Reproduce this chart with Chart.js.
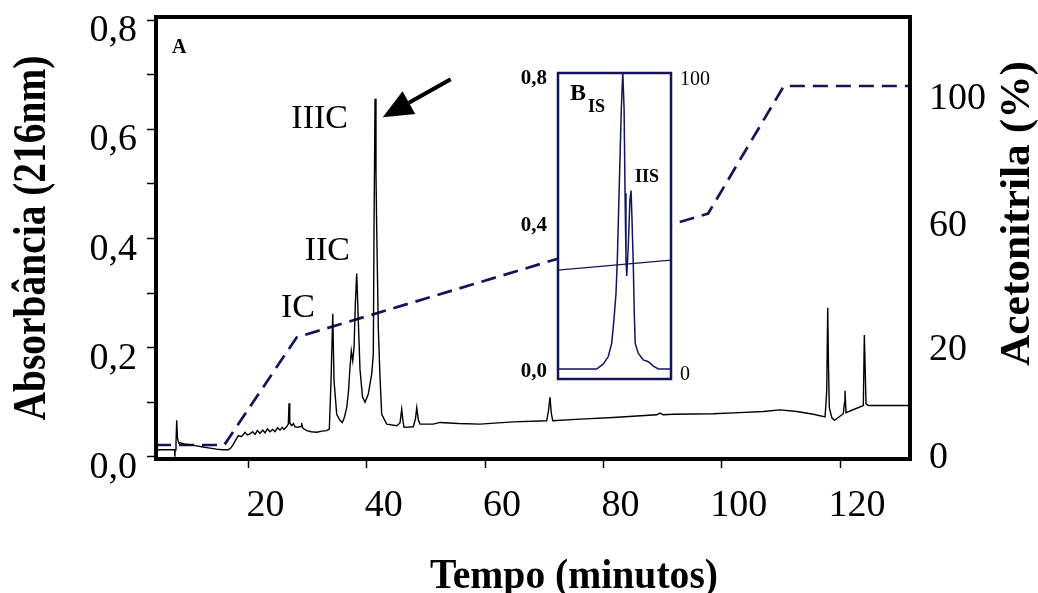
<!DOCTYPE html>
<html>
<head>
<meta charset="utf-8">
<title>Cromatograma</title>
<script src="https://cdn.jsdelivr.net/npm/chart.js@4.4.1/dist/chart.umd.min.js"></script>
<style>
  html, body { margin: 0; padding: 0; background: #fff; }
  #wrap { position: relative; width: 1038px; height: 593px; }
  #main { position: absolute; left: 0; top: 0; }
  #inset { position: absolute; left: 515px; top: 60px; }
</style>
</head>
<body>
<div id="wrap">
  <canvas id="main" width="1038" height="593"></canvas>
  <canvas id="inset" width="200" height="335"></canvas>
</div>
<script>
// cromatograma A: tempo (min) x absorbância (216 nm)
const tempo = [
  4.36, 7.5, 7.55, 7.6, 7.74, 7.86, 7.98, 8.2, 8.42, 9.26, 10.11, 11.2, 12.31, 13.5, 14.62, 15.6, 16.58,
  17.0, 17.43, 17.9, 18.28, 18.8, 19.41, 19.8, 20.25, 20.7, 21.1, 21.5, 21.94, 22.4, 22.79, 23.2, 23.63,
  24.1, 24.48, 24.9, 25.33, 25.7, 26.0, 26.5, 26.73, 26.85, 26.97, 27.3, 27.6, 27.86, 28.37, 28.9, 28.99,
  29.1, 29.38, 29.84, 30.6, 31.53, 32.43, 33.22, 33.66, 33.95, 34.24, 34.46, 34.91, 35.4, 35.86, 36.2,
  36.6, 36.9, 37.16, 37.38, 37.62, 37.84, 38.06, 38.29, 38.56, 38.85, 39.27, 39.7, 40.25, 40.83, 41.1,
  41.22, 41.39, 41.55, 41.67, 41.94, 42.23, 42.52, 43.36, 45.06, 45.61, 45.9, 46.12, 46.29, 47.86, 48.23,
  48.44, 48.71, 48.99, 51.24, 52.38, 55.5, 59.14, 64.72, 70.41, 70.72, 70.97, 71.19, 71.43, 76.04, 81.67,
  89.01, 89.57, 90.08, 91.82, 98.58, 103, 107.03, 109.86, 112.68, 115.49, 117.47, 117.75, 117.92, 118.06,
  118.19, 118.6, 119.04, 119.71, 120.56, 120.76, 120.84, 121.01, 122.82, 123.94, 124.11, 124.4, 124.79, 131.83
];
const absorbancia = [
  0.013, 0.013, 0.0, 0.013, 0.025, 0.067, 0.035, 0.025, 0.026, 0.023, 0.022, 0.02, 0.018, 0.016, 0.014, 0.013, 0.013,
  0.016, 0.023, 0.032, 0.039, 0.037, 0.045, 0.04, 0.042, 0.046, 0.041, 0.048, 0.043, 0.049, 0.044, 0.051, 0.046,
  0.05, 0.046, 0.053, 0.049, 0.054, 0.05, 0.056, 0.06, 0.098, 0.062, 0.057, 0.061, 0.055, 0.054, 0.056, 0.062,
  0.054, 0.051, 0.048, 0.046, 0.045, 0.047, 0.048, 0.051, 0.139, 0.262, 0.139, 0.078, 0.068, 0.063, 0.072,
  0.09, 0.12, 0.164, 0.194, 0.176, 0.2, 0.28, 0.336, 0.25, 0.16, 0.11, 0.1, 0.115, 0.152, 0.188,
  0.421, 0.656, 0.52, 0.42, 0.237, 0.146, 0.078, 0.06, 0.057, 0.062, 0.087, 0.065, 0.054, 0.055, 0.07,
  0.09, 0.068, 0.06, 0.06, 0.063, 0.061, 0.06, 0.064, 0.066, 0.085, 0.109, 0.08, 0.066, 0.069, 0.072,
  0.077, 0.08, 0.077, 0.078, 0.079, 0.081, 0.083, 0.086, 0.083, 0.078, 0.073, 0.12, 0.273, 0.16,
  0.09, 0.072, 0.067, 0.072, 0.079, 0.1, 0.121, 0.081, 0.089, 0.094, 0.223, 0.097, 0.094, 0.094
];

// gradiente de acetonitrila (%)
const tempoGradiente = [4.36, 15.9, 28.15, 97.7, 110.5, 131.83];
const acetonitrila = [0, 0, 20, 60, 100, 100];

// ticks dos eixos
const ticksTempo = [20, 40, 60, 80, 100, 120];
const ticksAbs = [0, 0.1, 0.2, 0.3, 0.4, 0.5, 0.6, 0.7, 0.8];
const rotulosAbs = [0, 0.2, 0.4, 0.6, 0.8];
const ticksAcn = [0, 20, 60, 100];

// detalhe B_IS
const tempoB = [
  48.0, 50.05, 50.41, 50.67, 50.85, 50.97, 51.08, 51.15, 51.22, 51.29, 51.36, 51.44, 51.51, 51.56, 51.61,
  51.65, 51.73, 51.82, 51.88, 51.93, 52.0, 52.05, 52.1, 52.26, 52.53, 52.8, 53.06, 53.33, 54.0
];
const absB = [
  0, 0, 0.014, 0.034, 0.07, 0.134, 0.207, 0.298, 0.434, 0.571, 0.708, 0.81, 0.708, 0.48, 0.298,
  0.254, 0.334, 0.462, 0.487, 0.407, 0.28, 0.152, 0.07, 0.043, 0.025, 0.02, 0.008, 0, 0
];
const tempoGradB = [48, 54];
const acnB = [34.1, 37.5];
const ticksAbsB = [0, 0.4, 0.8];
const ticksAcnB = [0, 100];

const serif = "'Liberation Serif', 'Times New Roman', serif";
const navy = "#14145a";

const virgula = (v) => v.toFixed(1).replace(".", ",");
const pontos = (xs, ys) => xs.map((x, i) => ({ x: x, y: ys[i] }));

// largura fixa do eixo, sem a folga que o Chart.js reserva para os rótulos
function fixa(prop, valor) {
  return (s) => {
    s[prop] = valor;
    s.paddingTop = 0;
    s.paddingBottom = 0;
    s.paddingLeft = 0;
    s.paddingRight = 0;
  };
}

// eixo da direita: no original 20 / 60 / 100 não ficam igualmente espaçados
const acnKnots = [[0, 0.0317], [20, 0.2753], [60, 0.5554], [100, 0.8439]];

function acnFrac(v) {
  let i = 0;
  while (i < acnKnots.length - 2 && v > acnKnots[i + 1][0]) i++;
  const [v0, f0] = acnKnots[i];
  const [v1, f1] = acnKnots[i + 1];
  return f0 + ((v - v0) * (f1 - f0)) / (v1 - v0);
}

class AcnScale extends Chart.LinearScale {
  getPixelForValue(value) {
    return this.bottom - acnFrac(value) * (this.bottom - this.top);
  }
  getValueForPixel(pixel) {
    const f = (this.bottom - pixel) / (this.bottom - this.top);
    let i = 0;
    while (i < acnKnots.length - 2 && f > acnKnots[i + 1][1]) i++;
    const [v0, f0] = acnKnots[i];
    const [v1, f1] = acnKnots[i + 1];
    return v0 + ((f - f0) * (v1 - v0)) / (f1 - f0);
  }
}
AcnScale.id = "acn";
AcnScale.defaults = {};
Chart.register(AcnScale);

// texto condensado (os títulos do original são mais estreitos que a fonte)
function condensado(ctx, texto, x, y, angulo, fonte, largura) {
  ctx.save();
  ctx.translate(x, y);
  ctx.rotate(angulo);
  ctx.font = fonte;
  const w = ctx.measureText(texto).width;
  ctx.scale(largura / w, 1);
  ctx.textAlign = "center";
  ctx.textBaseline = "alphabetic";
  ctx.fillStyle = "#000";
  ctx.fillText(texto, 0, 0);
  ctx.restore();
}

// rótulos dos picos (posições em unidades dos eixos)
const rotulosPicos = [
  { texto: "IIIC", t: 36.82, v: 0.6025 },
  { texto: "IIC", t: 37.16, v: 0.3606 },
  { texto: "IC", t: 31.24, v: 0.2562 },
];

const moldura = {
  id: "moldura",
  afterDraw(chart) {
    const { ctx, chartArea: a, scales } = chart;
    const x = scales.x;
    const y = scales.y;
    ctx.save();
    ctx.strokeStyle = "#000";
    ctx.lineWidth = 4;
    ctx.strokeRect(a.left, a.top, a.right - a.left, a.bottom - a.top);

    ctx.fillStyle = "#000";
    ctx.textBaseline = "alphabetic";
    ctx.font = "bold 20px " + serif;
    ctx.textAlign = "left";
    ctx.fillText("A", x.getPixelForValue(7.07), y.getPixelForValue(0.74));

    ctx.font = "34px " + serif;
    ctx.textAlign = "right";
    rotulosPicos.forEach((r) => {
      ctx.fillText(r.texto, x.getPixelForValue(r.t), y.getPixelForValue(r.v));
    });

    // seta apontando o pico IIIC
    const x0 = x.getPixelForValue(54.18), y0 = y.getPixelForValue(0.6918);
    const x1 = x.getPixelForValue(42.69), y1 = y.getPixelForValue(0.6221);
    const ang = Math.atan2(y1 - y0, x1 - x0);
    const cab = 30, meia = 13;
    const bx = x1 - cab * Math.cos(ang), by = y1 - cab * Math.sin(ang);
    ctx.lineWidth = 4;
    ctx.beginPath();
    ctx.moveTo(x0, y0);
    ctx.lineTo(bx, by);
    ctx.stroke();
    ctx.beginPath();
    ctx.moveTo(x1, y1);
    ctx.lineTo(bx + meia * Math.sin(ang), by - meia * Math.cos(ang));
    ctx.lineTo(bx - meia * Math.sin(ang), by + meia * Math.cos(ang));
    ctx.closePath();
    ctx.fill();
    ctx.restore();

    condensado(ctx, "Absorbância (216nm)", 45, (a.top + a.bottom) / 2, -Math.PI / 2, "bold 46px " + serif, 365);
    condensado(ctx, "Acetonitrila (%)", 1029, 213.5, -Math.PI / 2, "bold 42px " + serif, 305);
    condensado(ctx, "Tempo (minutos)", 574, 588, 0, "bold 42px " + serif, 288);
  },
};

new Chart(document.getElementById("main"), {
  type: "line",
  data: {
    datasets: [
      {
        label: "A",
        data: pontos(tempo, absorbancia),
        borderColor: "#000",
        borderWidth: 1.4,
        pointRadius: 0,
        tension: 0,
        yAxisID: "y",
        order: 0,
      },
      {
        label: "Acetonitrila",
        data: pontos(tempoGradiente, acetonitrila),
        borderColor: navy,
        borderWidth: 2.7,
        borderDash: [15, 8],
        pointRadius: 0,
        tension: 0,
        yAxisID: "y1",
        order: 1,
      },
    ],
  },
  options: {
    responsive: false,
    animation: false,
    events: [],
    layout: { padding: { top: 17 } },
    plugins: { legend: { display: false }, tooltip: { enabled: false } },
    scales: {
      x: {
        type: "linear",
        min: 4.36,
        max: 131.83,
        afterBuildTicks: (s) => { s.ticks = ticksTempo.map((v) => ({ value: v })); },
        afterFit: fixa("height", 134),
        border: { display: false },
        grid: { drawOnChartArea: false, tickLength: 9, tickWidth: 1.5, tickColor: "#000" },
        ticks: {
          color: "#000",
          font: { family: serif, size: 38 },
          padding: 15,
          labelOffset: 17,
          maxRotation: 0,
          autoSkip: false,
          callback: (v) => String(v),
        },
      },
      y: {
        type: "linear",
        position: "left",
        min: -0.004,
        max: 0.806,
        afterBuildTicks: (s) => { s.ticks = ticksAbs.map((v) => ({ value: v })); },
        afterFit: fixa("width", 156),
        border: { display: false },
        grid: { drawOnChartArea: false, tickLength: 9, tickWidth: 1.5, tickColor: "#000" },
        ticks: {
          color: "#000",
          font: { family: serif, size: 38 },
          padding: 10,
          labelOffset: 11,
          autoSkip: false,
          callback: (v) => (rotulosAbs.includes(v) ? virgula(v) : ""),
        },
      },
      y1: {
        type: "acn",
        position: "right",
        min: -2.6,
        max: 121.6,
        afterBuildTicks: (s) => { s.ticks = ticksAcn.map((v) => ({ value: v })); },
        afterFit: fixa("width", 128),
        border: { display: false },
        grid: { display: false },
        ticks: {
          color: "#000",
          font: { family: serif, size: 38 },
          padding: 11,
          labelOffset: 13,
          autoSkip: false,
          callback: (v) => String(v),
        },
      },
    },
  },
  plugins: [moldura],
});

// detalhe B_IS
const molduraB = {
  id: "molduraB",
  beforeDraw(chart) {
    const { ctx, chartArea: a } = chart;
    ctx.save();
    ctx.fillStyle = "#fff";
    ctx.fillRect(a.left, a.top, a.right - a.left, a.bottom - a.top);
    ctx.restore();
  },
  afterDraw(chart) {
    const { ctx, chartArea: a, scales } = chart;
    const x = scales.x;
    const y = scales.y;
    ctx.save();
    ctx.strokeStyle = navy;
    ctx.lineWidth = 2.5;
    ctx.strokeRect(a.left, a.top, a.right - a.left, a.bottom - a.top);
    ctx.fillStyle = "#000";
    ctx.textAlign = "left";
    ctx.textBaseline = "alphabetic";
    ctx.font = "bold 24px " + serif;
    ctx.fillText("B", x.getPixelForValue(48.64), y.getPixelForValue(0.7345));
    ctx.font = "bold 18px " + serif;
    ctx.fillText("IS", x.getPixelForValue(49.59), y.getPixelForValue(0.7017));
    ctx.fillText("IIS", x.getPixelForValue(52.09), y.getPixelForValue(0.5106));
    ctx.restore();
  },
};

new Chart(document.getElementById("inset"), {
  type: "line",
  data: {
    datasets: [
      {
        label: "B",
        data: pontos(tempoB, absB),
        borderColor: navy,
        borderWidth: 1.5,
        pointRadius: 0,
        tension: 0,
        yAxisID: "y",
      },
      {
        label: "Acetonitrila",
        data: pontos(tempoGradB, acnB),
        borderColor: navy,
        borderWidth: 1.3,
        pointRadius: 0,
        yAxisID: "y1",
      },
    ],
  },
  options: {
    responsive: false,
    animation: false,
    events: [],
    layout: { padding: { top: 13, bottom: 16 } },
    plugins: { legend: { display: false }, tooltip: { enabled: false } },
    scales: {
      x: { type: "linear", min: 48, max: 54, display: false },
      y: {
        type: "linear",
        position: "left",
        min: -0.0273,
        max: 0.8082,
        afterBuildTicks: (s) => { s.ticks = ticksAbsB.map((v) => ({ value: v })); },
        afterFit: fixa("width", 43),
        border: { display: false },
        grid: { display: false },
        ticks: {
          color: "#000",
          font: { family: serif, size: 21, weight: "bold" },
          padding: 3,
          labelOffset: 3,
          callback: (v) => virgula(v),
        },
      },
      y1: {
        type: "linear",
        position: "right",
        min: -2.73,
        max: 100.82,
        afterBuildTicks: (s) => { s.ticks = ticksAcnB.map((v) => ({ value: v })); },
        afterFit: fixa("width", 44),
        border: { display: false },
        grid: { display: false },
        ticks: {
          color: "#000",
          font: { family: serif, size: 20 },
          padding: 1,
          labelOffset: 4,
          callback: (v) => String(v),
        },
      },
    },
  },
  plugins: [molduraB],
});
</script>
</body>
</html>
